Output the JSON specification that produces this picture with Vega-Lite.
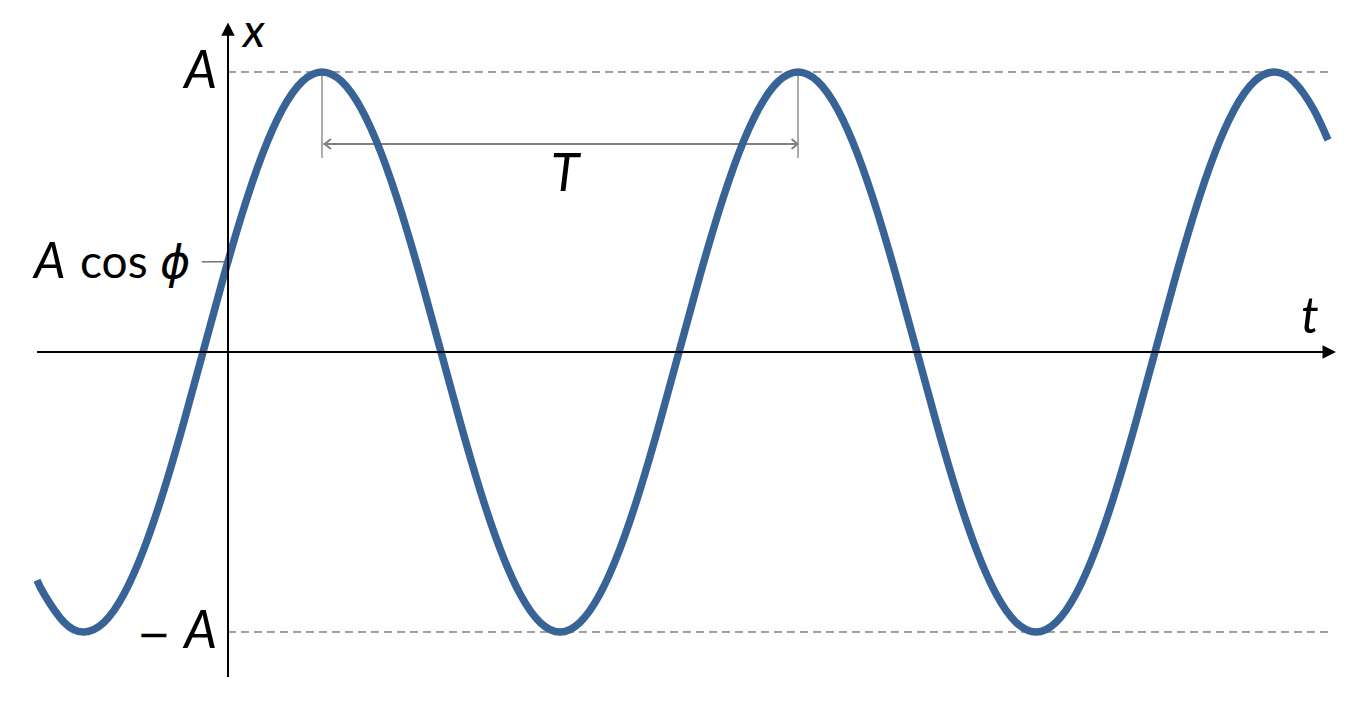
{
  "$schema": "https://vega.github.io/schema/vega-lite/v6.json",
  "width": 1356,
  "height": 701,
  "padding": 0,
  "autosize": {"type": "none"},
  "background": "white",
  "config": {"view": {"stroke": null}},
  "datasets": {
    "curve": [
      {"t": -0.4013, "x": -0.8151},
      {"t": -0.38583, "x": -0.8660},
      {"t": -0.34417, "x": -0.9659},
      {"t": -0.3025, "x": -1},
      {"t": -0.26083, "x": -0.9659},
      {"t": -0.21917, "x": -0.8660},
      {"t": -0.1775, "x": -0.7071},
      {"t": -0.13583, "x": -0.5},
      {"t": -0.09417, "x": -0.2588},
      {"t": -0.0525, "x": 0},
      {"t": -0.01083, "x": 0.2588},
      {"t": 0.03083, "x": 0.5},
      {"t": 0.0725, "x": 0.7071},
      {"t": 0.11417, "x": 0.8660},
      {"t": 0.15583, "x": 0.9659},
      {"t": 0.1975, "x": 1},
      {"t": 0.23917, "x": 0.9659},
      {"t": 0.28083, "x": 0.8660},
      {"t": 0.3225, "x": 0.7071},
      {"t": 0.36417, "x": 0.5},
      {"t": 0.40583, "x": 0.2588},
      {"t": 0.4475, "x": 0},
      {"t": 0.48917, "x": -0.2588},
      {"t": 0.53083, "x": -0.5},
      {"t": 0.5725, "x": -0.7071},
      {"t": 0.61417, "x": -0.8660},
      {"t": 0.65583, "x": -0.9659},
      {"t": 0.6975, "x": -1},
      {"t": 0.73917, "x": -0.9659},
      {"t": 0.78083, "x": -0.8660},
      {"t": 0.8225, "x": -0.7071},
      {"t": 0.86417, "x": -0.5},
      {"t": 0.90583, "x": -0.2588},
      {"t": 0.9475, "x": 0},
      {"t": 0.98917, "x": 0.2588},
      {"t": 1.03083, "x": 0.5},
      {"t": 1.0725, "x": 0.7071},
      {"t": 1.11417, "x": 0.8660},
      {"t": 1.15583, "x": 0.9659},
      {"t": 1.1975, "x": 1},
      {"t": 1.23917, "x": 0.9659},
      {"t": 1.28083, "x": 0.8660},
      {"t": 1.3225, "x": 0.7071},
      {"t": 1.36417, "x": 0.5},
      {"t": 1.40583, "x": 0.2588},
      {"t": 1.4475, "x": 0},
      {"t": 1.48917, "x": -0.2588},
      {"t": 1.53083, "x": -0.5},
      {"t": 1.5725, "x": -0.7071},
      {"t": 1.61417, "x": -0.8660},
      {"t": 1.65583, "x": -0.9659},
      {"t": 1.6975, "x": -1},
      {"t": 1.73917, "x": -0.9659},
      {"t": 1.78083, "x": -0.8660},
      {"t": 1.8225, "x": -0.7071},
      {"t": 1.86417, "x": -0.5},
      {"t": 1.90583, "x": -0.2588},
      {"t": 1.9475, "x": 0},
      {"t": 1.98917, "x": 0.2588},
      {"t": 2.03083, "x": 0.5},
      {"t": 2.0725, "x": 0.7071},
      {"t": 2.11417, "x": 0.8660},
      {"t": 2.15583, "x": 0.9659},
      {"t": 2.1975, "x": 1},
      {"t": 2.23917, "x": 0.9659},
      {"t": 2.28083, "x": 0.8660},
      {"t": 2.311, "x": 0.757}
    ],
    "dashed": [
      {"t": 0, "t2": 2.311, "x": 1},
      {"t": 0, "t2": 2.311, "x": -1}
    ],
    "haxis": [{"t": -0.4013, "t2": 2.31, "x": 0}],
    "vaxis": [{"t": 0, "x": -1.161, "x2": 1.15}],
    "harrow": [{"t": 2.3135, "x": 0}],
    "varrow": [{"t": 0, "x": 1.153}],
    "tick": [{"t": -0.055, "t2": 0, "x": 0.322}],
    "peaks": [
      {"t": 0.1975, "x": 1, "x2": 0.693},
      {"t": 1.1975, "x": 1, "x2": 0.693}
    ],
    "period": [{"t": 0.2, "t2": 1.195, "x": 0.743}],
    "chevL": [{"t": 0.2035, "x": 0.743}],
    "chevR": [{"t": 1.1965, "x": 0.743}],
    "labelsRight": [
      {"t": -0.0231, "x": 0.943, "label": "A"},
      {"t": -0.0231, "x": -1.057, "label": "A"}
    ],
    "minus": [{"t": -0.1555, "x": -1.057, "label": "−"}],
    "labelsLeft": [
      {"t": -0.4076, "x": 0.264, "label": "A"},
      {"t": 2.254, "x": 0.068, "label": "t"}
    ],
    "labelX": [{"t": 0.0315, "x": 1.0893, "label": "x"}],
    "labelsUpright": [{"t": -0.3109, "x": 0.264, "label": "cos"}],
    "labelsPhi": [{"t": -0.1428, "x": 0.264, "label": "ϕ"}],
    "labelsCenter": [{"t": 0.708, "x": 0.575, "label": "T"}]
  },
  "encoding": {
    "x": {"field": "t", "type": "quantitative", "axis": null, "scale": {"domain": [-0.47899, 2.36975], "nice": false, "zero": false}},
    "y": {"field": "x", "type": "quantitative", "axis": null, "scale": {"domain": [-1.24643, 1.25714], "nice": false, "zero": false}}
  },
  "layer": [
    {
      "data": {"name": "dashed"},
      "mark": {"type": "rule", "color": "#404040", "strokeWidth": 1, "strokeDash": [8, 5]},
      "encoding": {"x2": {"field": "t2"}}
    },
    {
      "data": {"name": "tick"},
      "mark": {"type": "rule", "color": "#505050", "strokeWidth": 1.2},
      "encoding": {"x2": {"field": "t2"}}
    },
    {
      "data": {"name": "peaks"},
      "mark": {"type": "rule", "color": "#808080", "strokeWidth": 1.3},
      "encoding": {"y2": {"field": "x2"}}
    },
    {
      "data": {"name": "period"},
      "mark": {"type": "rule", "color": "#808080", "strokeWidth": 2},
      "encoding": {"x2": {"field": "t2"}}
    },
    {
      "data": {"name": "chevL"},
      "mark": {"type": "point", "shape": "M1.2,-1L0,0L1.2,1", "filled": false, "stroke": "#808080", "strokeWidth": 2, "size": 100, "opacity": 1}
    },
    {
      "data": {"name": "chevR"},
      "mark": {"type": "point", "shape": "M-1.2,-1L0,0L-1.2,1", "filled": false, "stroke": "#808080", "strokeWidth": 2, "size": 100, "opacity": 1}
    },
    {
      "data": {"name": "curve"},
      "mark": {"type": "line", "interpolate": "natural", "color": "#386397", "strokeWidth": 7.5, "strokeCap": "butt"}
    },
    {
      "data": {"name": "haxis"},
      "mark": {"type": "rule", "color": "black", "strokeWidth": 2},
      "encoding": {"x2": {"field": "t2"}}
    },
    {
      "data": {"name": "vaxis"},
      "mark": {"type": "rule", "color": "black", "strokeWidth": 2},
      "encoding": {"y2": {"field": "x2"}}
    },
    {
      "data": {"name": "harrow"},
      "mark": {"type": "point", "shape": "M-1,-1L1,0L-1,1Z", "filled": true, "color": "black", "size": 180, "opacity": 1, "strokeWidth": 0}
    },
    {
      "data": {"name": "varrow"},
      "mark": {"type": "point", "shape": "M-1,1L0,-1L1,1Z", "filled": true, "color": "black", "size": 180, "opacity": 1, "strokeWidth": 0}
    },
    {
      "data": {"name": "labelsRight"},
      "mark": {"type": "text", "align": "right", "baseline": "alphabetic", "font": "Lato", "fontStyle": "italic", "fontSize": 52, "color": "black"},
      "encoding": {"text": {"field": "label"}}
    },
    {
      "data": {"name": "minus"},
      "mark": {"type": "text", "align": "center", "baseline": "alphabetic", "font": "DejaVu Sans", "fontSize": 40, "color": "black"},
      "encoding": {"text": {"field": "label"}}
    },
    {
      "data": {"name": "labelsLeft"},
      "mark": {"type": "text", "align": "left", "baseline": "alphabetic", "font": "Lato", "fontStyle": "italic", "fontSize": 50, "color": "black"},
      "encoding": {"text": {"field": "label"}}
    },
    {
      "data": {"name": "labelX"},
      "mark": {"type": "text", "align": "left", "baseline": "alphabetic", "font": "Lato", "fontStyle": "italic", "fontSize": 47, "color": "black"},
      "encoding": {"text": {"field": "label"}}
    },
    {
      "data": {"name": "labelsUpright"},
      "mark": {"type": "text", "align": "left", "baseline": "alphabetic", "font": "Lato", "fontSize": 46, "color": "black"},
      "encoding": {"text": {"field": "label"}}
    },
    {
      "data": {"name": "labelsPhi"},
      "mark": {"type": "text", "align": "left", "baseline": "alphabetic", "font": "DejaVu Sans", "fontStyle": "italic", "fontSize": 46, "color": "black"},
      "encoding": {"text": {"field": "label"}}
    },
    {
      "data": {"name": "labelsCenter"},
      "mark": {"type": "text", "align": "center", "baseline": "alphabetic", "font": "Lato", "fontStyle": "italic", "fontSize": 52, "color": "black"},
      "encoding": {"text": {"field": "label"}}
    }
  ]
}
